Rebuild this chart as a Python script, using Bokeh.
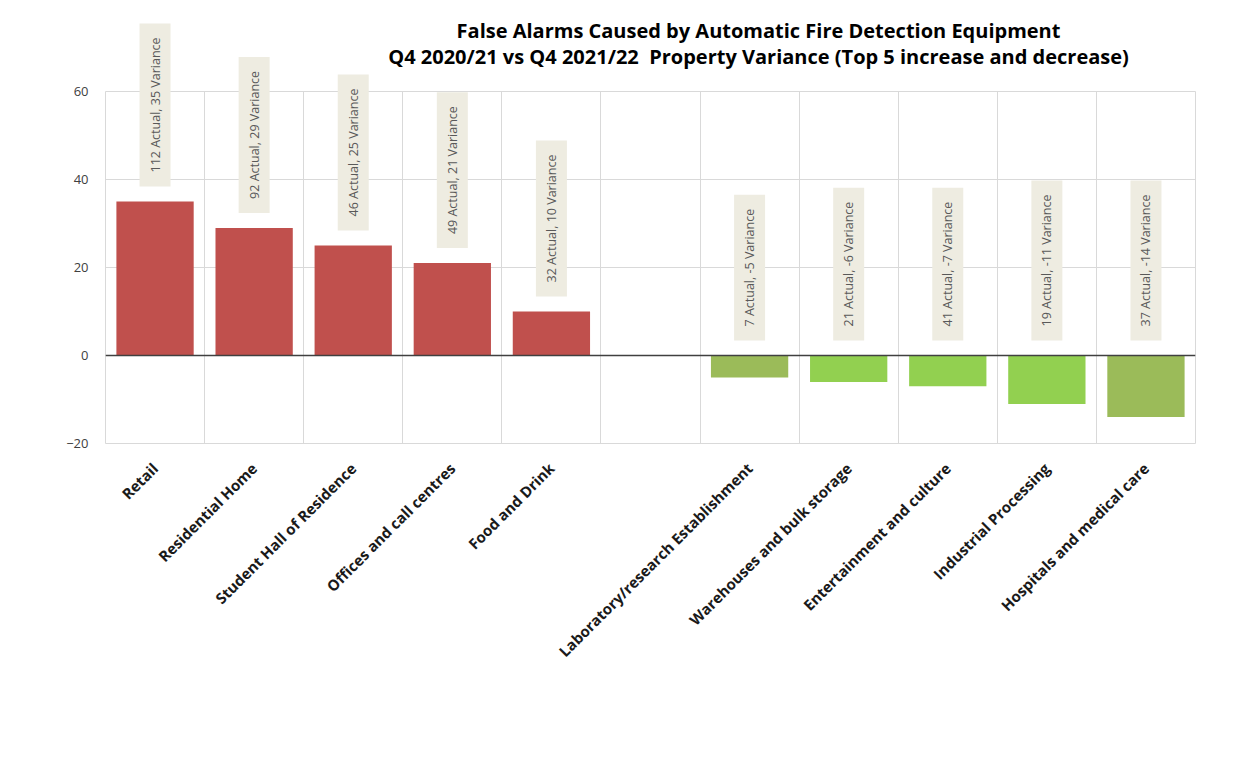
import math
from bokeh.plotting import figure
from bokeh.models import FactorRange, Range1d, FixedTicker, Span, ColumnDataSource
from bokeh.core.properties import value
from bokeh.embed import file_html
from bokeh.resources import INLINE

# ---- data ----
categories = ["Retail", "Residential Home", "Student Hall of Residence",
              "Offices and call centres", "Food and Drink", " ",
              "Laboratory/research Establishment", "Warehouses and bulk storage",
              "Entertainment and culture", "Industrial Processing",
              "Hospitals and medical care"]
bar_categories = ["Retail", "Residential Home", "Student Hall of Residence",
                  "Offices and call centres", "Food and Drink",
                  "Laboratory/research Establishment", "Warehouses and bulk storage",
                  "Entertainment and culture", "Industrial Processing",
                  "Hospitals and medical care"]
variance = [35, 29, 25, 21, 10, -5, -6, -7, -11, -14]
actual = [112, 92, 46, 49, 32, 7, 21, 41, 19, 37]
bar_colors = ["#C0504D", "#C0504D", "#C0504D", "#C0504D", "#C0504D",
              "#9BBB59", "#92D050", "#92D050", "#92D050", "#9BBB59"]
y_ticks = [-20, 0, 20, 40, 60]

title_lines = ["False Alarms Caused by Automatic Fire Detection Equipment",
               "Q4 2020/21 vs Q4 2021/22\u00a0 Property Variance (Top 5 increase and decrease)"]

FONT = "Open Sans"

labels = [f"{a} Actual, {v} Variance" for a, v in zip(actual, variance)]
label_base = [max(v, 0) for v in variance]

src = ColumnDataSource(dict(cat=bar_categories, val=variance, color=bar_colors,
                            label=labels, base=label_base))

p = figure(x_range=FactorRange(*categories), y_range=Range1d(-20, 60),
           frame_width=1090, frame_height=352,
           min_border_left=105, min_border_top=91, min_border_right=30, min_border_bottom=290,
           output_backend="svg", toolbar_location=None, title=None)

p.vbar(x="cat", top="val", width=0.78, source=src, fill_color="color", line_color=None)

p.add_layout(Span(location=0, dimension="width", line_color="#404040", line_width=1.5))

# data labels: drawn at overlay level so that they may rise above the plot area
p.text(x="cat", y="base", text="label", source=src, angle=math.pi / 2,
       text_align="left", text_baseline="middle", y_offset=-15,
       text_font=value(FONT), text_font_size="12.5px", text_color="#595959",
       background_fill_color="#EEECE1", padding=(14, 7), level="overlay")

# two-line title, placed over the chart (centre offset to the right as in the original)
title_src = ColumnDataSource(dict(x=[6.59, 6.59], y=[73.9, 68.0], text=title_lines))
p.text(x="x", y="y", text="text", source=title_src, text_align="center",
       text_baseline="middle", text_font=value(FONT), text_font_size="20px",
       text_font_style="bold", text_color="#000000", level="overlay")

# axes
p.yaxis.ticker = y_ticks
p.yaxis.axis_line_color = None
p.yaxis.major_tick_line_color = None
p.yaxis.minor_tick_line_color = None
p.yaxis.major_label_text_font = FONT
p.yaxis.major_label_text_font_size = "13px"
p.yaxis.major_label_text_color = "#404040"
p.yaxis.major_label_standoff = 11

p.xaxis.axis_line_color = None
p.xaxis.major_tick_line_color = None
p.xaxis.major_label_orientation = math.pi / 4
p.xaxis.major_label_text_font = FONT
p.xaxis.major_label_text_font_size = "15px"
p.xaxis.major_label_text_font_style = "bold"
p.xaxis.major_label_text_color = "#1A1A1A"
p.xaxis.major_label_standoff = 16

# grids
p.xgrid.ticker = FixedTicker(ticks=list(range(1, len(categories))))
p.xgrid.grid_line_color = "#D9D9D9"
p.ygrid.grid_line_color = "#D9D9D9"
p.outline_line_color = "#D9D9D9"
p.background_fill_color = "white"
p.border_fill_color = "white"

open("out.html", "w").write(file_html(p, INLINE))
